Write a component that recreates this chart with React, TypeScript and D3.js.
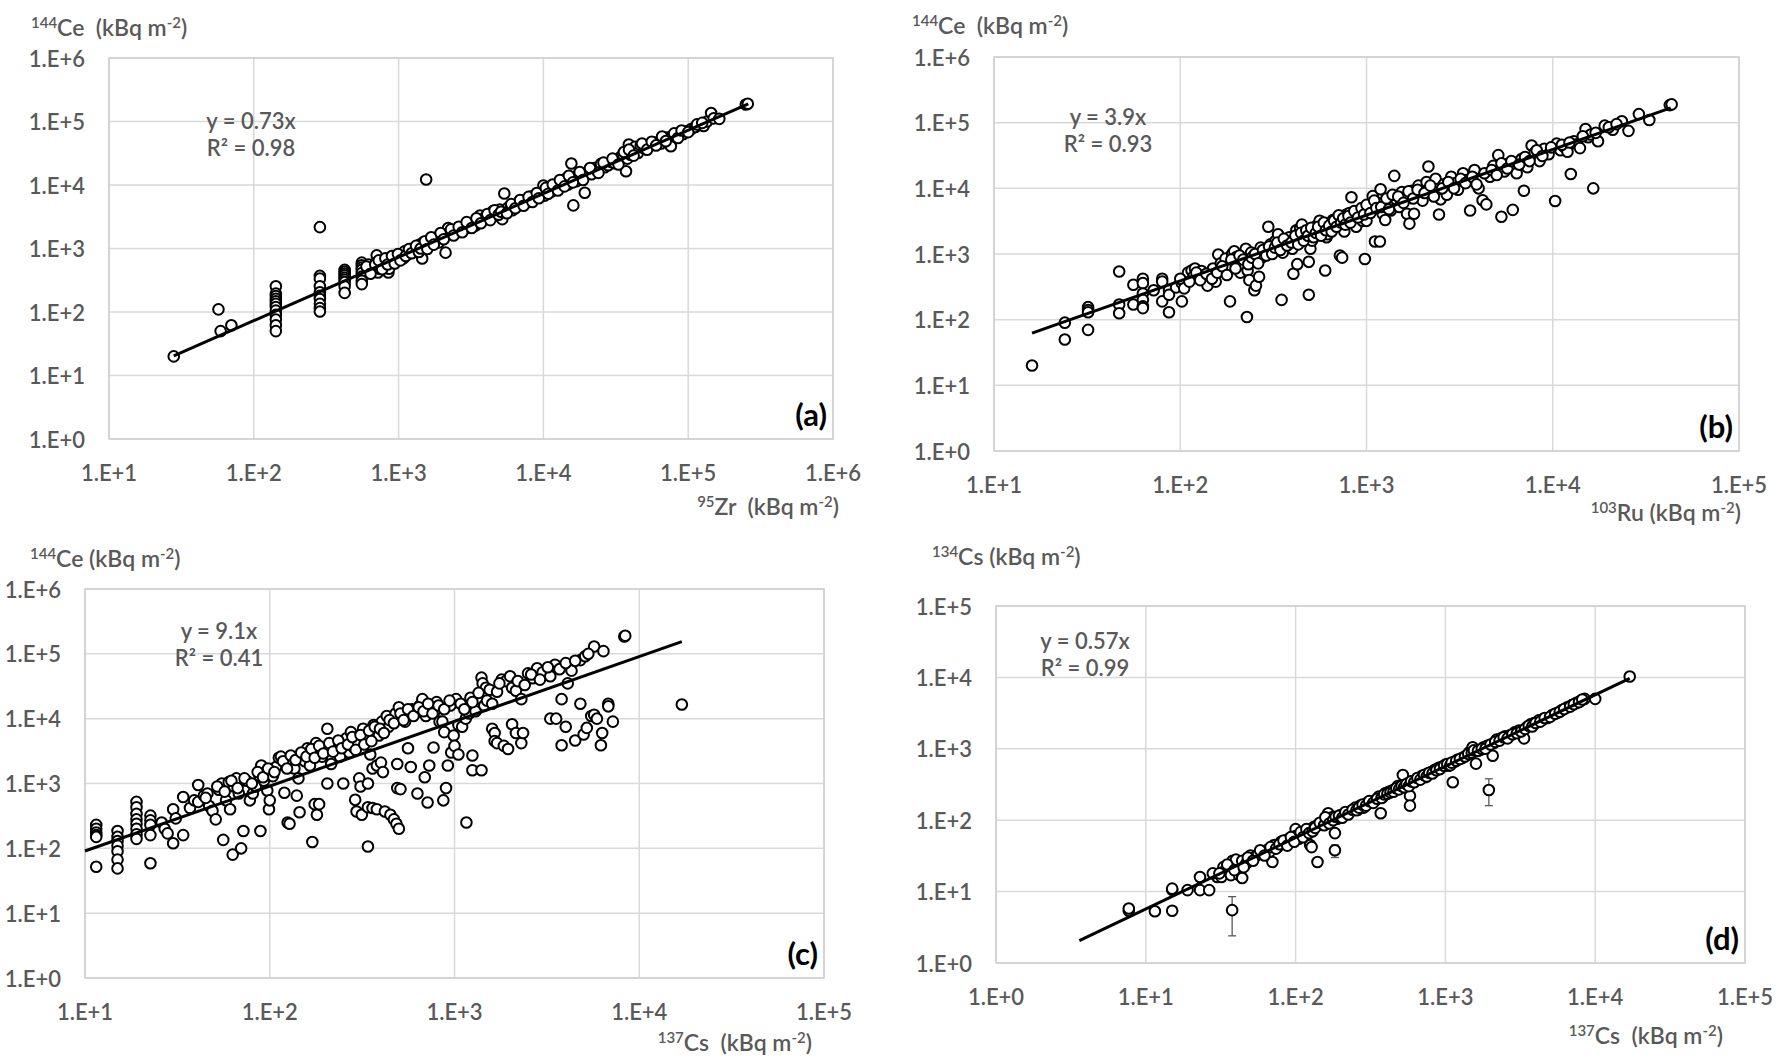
import React from "react";
import * as d3 from "d3";

// (a) 95Zr vs 144Ce, kBq m-2
const zrCe: [number, number][] = [
  [28, 20], [57, 110], [59, 50], [70, 62],
  [142, 255], [142, 195], [142, 178], [142, 162], [142, 148], [142, 135], [142, 120], [142, 105], [142, 90], [142, 76], [142, 62], [142, 50],
  [286, 2170], [286, 370], [286, 335], [286, 255], [286, 205], [286, 180], [286, 160], [286, 135], [286, 115], [286, 102],
  [424, 460], [424, 430], [424, 400], [424, 375], [424, 345], [424, 320], [424, 295], [424, 255], [424, 200],
  [557, 600], [557, 545], [557, 500], [557, 460], [557, 410], [557, 360], [557, 310], [557, 275],
  [620, 560], [650, 470], [680, 520], [706, 780], [700, 600], [720, 420], [740, 480], [760, 560], [790, 520], [820, 620],
  [850, 420], [860, 480], [880, 650], [920, 600], [950, 700], [980, 680], [1000, 760], [1050, 820], [1080, 700], [1100, 900],
  [1150, 800], [1200, 880], [1250, 1000], [1300, 940], [1350, 1050], [1400, 1150], [1455, 694], [1480, 1250], [1550, 1100],
  [1550, 12200], [1600, 1300], [1650, 1200], [1700, 1400], [1800, 1350], [1850, 1500], [1900, 1250], [2000, 1600], [2110, 860],
  [2150, 1700], [2200, 2100], [2250, 1800], [2350, 1700], [2450, 1950], [2550, 1850], [2700, 2100], [2850, 2000], [3000, 2350],
  [3100, 2150], [3300, 2500], [3400, 2300], [3500, 2750], [3650, 3300], [3800, 2750], [3900, 2900], [4000, 3200], [4200, 3000],
  [4400, 3600], [4500, 3900], [4700, 3300], [4800, 3700], [5000, 4100], [5200, 2900], [5370, 7360], [5500, 4000], [5700, 4400],
  [5900, 4200], [6100, 4000], [6300, 4800], [6500, 4600], [6700, 5000], [7000, 5300], [7200, 5700], [7500, 5100], [7700, 6000],
  [8000, 5700], [8200, 6600], [8500, 6100], [8800, 6900], [9100, 6600], [9500, 7100], [9800, 7700], [10000, 9800], [10200, 6800],
  [10600, 8000], [11000, 8600], [11400, 7900], [11800, 9200], [12300, 8800], [12800, 10500], [13300, 9700], [13800, 11200],
  [14300, 12600], [14800, 10200], [15300, 11800], [15600, 21800], [16100, 4770], [16500, 13200], [17000, 11500], [17500, 14500],
  [18200, 13000], [19300, 7540], [19500, 15000], [20500, 16200], [21500, 14800], [22500, 18500], [23500, 16800], [25000, 21500],
  [26500, 19000], [28000, 20500], [29500, 23000], [31000, 22000], [32500, 25500], [34000, 27500], [35500, 30000], [37200, 16500],
  [38000, 26000], [38900, 43400], [40000, 30000], [41500, 35000], [43000, 40000], [45000, 32000], [47000, 42000], [50000, 37000],
  [53000, 40000], [57000, 44000], [61000, 47000], [65000, 45000], [68000, 52000], [72000, 56000], [75900, 40800], [78000, 60000],
  [82000, 57000], [87000, 66000], [92000, 63000], [97000, 70000], [105000, 76000], [112000, 82000], [120000, 88000],
  [128000, 85000], [135000, 100000], [144000, 136000], [150000, 112000], [164000, 110000], [250000, 185000], [258000, 190000],
  [600, 520], [640, 400], [690, 560], [730, 650], [770, 470], [810, 700], [840, 560], [900, 760], [940, 580], [990, 820],
  [1030, 650], [1120, 760], [1180, 980], [1230, 840], [1320, 1100], [1380, 880], [1420, 1000], [1520, 1300], [1580, 980],
  [1680, 1500], [1750, 1150], [1950, 1750], [2050, 1400], [2300, 2000], [2400, 1600], [2600, 2200], [2750, 1800], [2950, 2600],
  [3200, 2100], [3450, 3000], [3700, 2500], [4100, 3500], [4300, 2800], [4600, 4000], [4900, 3400], [5100, 3800], [5600, 3600],
  [6000, 5000], [6400, 4300], [6900, 5800], [7300, 4700], [7900, 6500], [8400, 5400], [9000, 7500], [9300, 6200], [10400, 9000],
  [10800, 7300], [11600, 10200], [12600, 8200], [13000, 12000], [14000, 9500], [15000, 14000], [16000, 11000], [17800, 16000],
  [18800, 12000], [21000, 18500], [24000, 15500], [26000, 22500], [30000, 26000], [33000, 21000], [36000, 33000], [39000, 36000],
  [42000, 29000], [48000, 45000], [52000, 36000], [56000, 48000], [60000, 42000], [66000, 58000], [70000, 49000], [80000, 65000],
  [85000, 55000], [90000, 72000], [100000, 68000], [115000, 90000], [125000, 95000],
];

// (b) 103Ru vs 144Ce
const ruCe: [number, number][] = [
  [16, 20], [24, 90], [24, 50], [32, 155], [32, 140], [32, 130], [32, 70],
  [47, 540], [47, 170], [47, 125], [56, 340], [56, 170], [63, 420], [63, 360], [63, 250], [63, 200], [63, 160], [63, 150],
  [72, 280], [80, 420], [80, 380], [80, 190], [87, 280], [87, 240], [87, 130], [95, 310], [102, 190], [102, 360], [107, 420],
  [110, 520], [115, 560], [118, 460], [120, 600], [125, 480], [130, 550], [135, 420], [140, 330], [145, 480], [150, 600],
  [155, 380], [160, 980], [165, 720], [170, 560], [175, 850], [180, 640], [185, 190], [190, 1000], [195, 1100], [200, 900],
  [205, 780], [210, 520], [215, 700], [220, 950], [225, 1200], [228, 110], [230, 560], [235, 400], [240, 1050], [245, 760],
  [250, 280], [255, 330], [260, 980], [265, 450], [270, 1250], [275, 890], [285, 1100], [297, 2600], [305, 1400], [315, 1200],
  [325, 1600], [335, 2000], [340, 1300], [350, 200], [355, 1050], [370, 1500], [385, 1800], [400, 1200], [405, 500], [410, 1650],
  [420, 2300], [425, 700], [440, 2500], [450, 2800], [465, 1900], [490, 240], [490, 760], [500, 1200], [510, 1600], [525, 2200],
  [540, 2700], [560, 3200], [580, 2400], [600, 560], [610, 1800], [620, 2000], [640, 2700], [660, 3300], [680, 2900], [700, 3600],
  [720, 950], [740, 880], [760, 2200], [780, 4000], [790, 3100], [810, 4200], [830, 7300], [850, 3500], [880, 2600], [920, 4600],
  [950, 3200], [980, 840], [1000, 3200], [1030, 4300], [1060, 5500], [1080, 7600], [1110, 1550], [1150, 6000], [1180, 1550],
  [1190, 9700], [1220, 4100], [1260, 3300], [1300, 5800], [1350, 4600], [1410, 15500], [1450, 6700], [1500, 5200], [1550, 8800],
  [1600, 7000], [1650, 4100], [1700, 2900], [1750, 9200], [1800, 4100], [1850, 7800], [1900, 11000], [1950, 8500], [2000, 6500],
  [2100, 12500], [2150, 21500], [2250, 9300], [2350, 14000], [2450, 4000], [2500, 6800], [2600, 11500], [2700, 8000],
  [2850, 15000], [3000, 12000], [3100, 9500], [3300, 17000], [3500, 13500], [3600, 4600], [3800, 19000], [4000, 10000],
  [4200, 6600], [4400, 5700], [4600, 15000], [4800, 22000], [5100, 32000], [5300, 3700], [5500, 18000], [5800, 24000],
  [6100, 4700], [6400, 17000], [6800, 28000], [7000, 9200], [7300, 21000], [7700, 45000], [8000, 35000], [8500, 26000],
  [9000, 40000], [9500, 33000], [10300, 6400], [10500, 48000], [11000, 38000], [11500, 43000], [12000, 36000], [12500, 16500],
  [13000, 52000], [13500, 47000], [14000, 41000], [15000, 80000], [15500, 60000], [16000, 66000], [16500, 10000], [17500, 52000],
  [19000, 90000], [21000, 78000], [23500, 105000], [25500, 75000], [29000, 135000], [33000, 110000], [42500, 185000], [43500, 190000],
  [100, 420], [105, 300], [112, 380], [122, 520], [128, 400], [138, 500], [148, 420], [158, 520], [168, 650], [178, 480],
  [188, 820], [198, 600], [208, 950], [218, 820], [232, 700], [242, 880], [252, 1000], [262, 720], [278, 1150], [290, 950],
  [300, 1300], [312, 1000], [322, 1250], [332, 1500], [345, 1150], [360, 1700], [375, 1350], [395, 1500], [415, 1900],
  [430, 1400], [445, 2100], [460, 1600], [475, 2300], [485, 1900], [505, 2500], [520, 1800], [535, 2100], [550, 2600],
  [570, 1900], [590, 3000], [605, 2300], [630, 2700], [650, 2200], [670, 3200], [690, 2600], [710, 3900], [730, 3000],
  [750, 3500], [770, 2800], [800, 3800], [820, 3000], [860, 4500], [900, 3600], [940, 5000], [970, 4000], [1000, 5600],
  [1050, 4200], [1100, 6500], [1130, 5000], [1200, 5200], [1280, 7000], [1320, 4800], [1380, 8000], [1480, 7500], [1580, 6000],
  [1680, 9000], [1780, 7000], [1880, 9500], [2050, 8500], [2200, 11000], [2300, 7500], [2550, 10000], [2750, 12500],
  [2950, 10000], [3200, 14000], [3400, 12000], [3700, 15000], [3900, 11500], [4300, 17000], [4700, 19000], [5000, 16000],
  [5300, 24000], [5700, 20000], [6000, 26000], [6600, 23000], [7100, 30000], [7500, 26000], [8200, 38000], [8800, 31000],
  [9800, 42000], [11200, 46000], [12300, 50000], [14500, 62000], [17000, 70000], [20000, 85000], [22000, 95000],
];

// (c) 137Cs vs 144Ce
const csCe: [number, number][] = [
  [11.5, 230], [11.5, 200], [11.5, 175], [11.5, 160], [11.5, 150], [11.5, 52],
  [15, 185], [15, 150], [15, 130], [15, 110], [15, 90], [15, 67], [15, 49],
  [19, 520], [19, 430], [19, 340], [19, 280], [19, 240], [19, 200], [19, 165], [19, 140],
  [22.6, 320], [22.6, 270], [22.6, 230], [22.6, 160], [22.6, 59],
  [26, 250], [27, 200], [28, 170], [30, 400], [30, 120], [31, 290], [34, 620], [34, 160], [37, 420], [39, 550], [41, 950],
  [41, 520], [44, 650], [46, 700], [47, 450], [49, 380], [51, 280], [53, 800], [55, 1000], [56, 135], [58, 550], [60, 1050],
  [61, 400], [63, 80], [64, 900], [66, 1200], [68, 700], [70, 100], [72, 185], [75, 1100], [78, 550], [81, 700], [84, 900],
  [88, 1300], [89, 185], [90, 1900], [93, 1100], [95, 1500], [97, 780], [99, 400], [100, 550], [104, 1300], [108, 1800],
  [112, 2500], [115, 2600], [120, 720], [125, 250], [128, 240], [132, 2000], [136, 1700], [140, 650], [143, 1200], [145, 360],
  [150, 2800], [155, 2200], [160, 3500], [165, 1900], [170, 125], [175, 480], [178, 4200], [180, 330], [185, 480], [192, 2600],
  [198, 3300], [205, 7000], [205, 1000], [215, 2000], [230, 3500], [240, 2600], [250, 4500], [250, 1000], [260, 5000],
  [270, 3000], [275, 6200], [285, 3600], [290, 560], [295, 370], [300, 4200], [305, 1200], [310, 900], [315, 330], [320, 7000],
  [330, 4800], [340, 107], [340, 1000], [340, 430], [350, 2800], [360, 420], [360, 1700], [365, 8000], [375, 6000], [380, 400],
  [380, 1900], [390, 5500], [400, 2100], [405, 9000], [410, 1500], [420, 370], [430, 11000], [440, 7500], [450, 330],
  [460, 9500], [470, 280], [480, 12000], [485, 240], [490, 2000], [490, 850], [500, 200], [500, 15000], [510, 820], [520, 11000],
  [540, 9000], [560, 3500], [580, 1800], [590, 14000], [610, 12000], [630, 700], [650, 16000], [670, 20000], [690, 1250],
  [700, 11000], [715, 510], [730, 1900], [750, 15000], [770, 3600], [780, 13000], [800, 18000], [830, 9000], [860, 9000],
  [870, 550], [880, 6200], [900, 850], [920, 1900], [950, 16000], [960, 3000], [990, 5500], [1000, 3800], [1020, 20000],
  [1050, 8000], [1050, 2800], [1100, 7500], [1150, 10000], [1160, 250], [1200, 12000], [1220, 21000], [1250, 2700],
  [1250, 1600], [1280, 15000], [1300, 13000], [1400, 43000], [1400, 1600], [1420, 35000], [1450, 16000], [1480, 30000],
  [1500, 19000], [1600, 7000], [1600, 17000], [1650, 6000], [1650, 4500], [1700, 4200], [1800, 40000], [1850, 3800],
  [1900, 38000], [1950, 3400], [2000, 45000], [2050, 30000], [2050, 8200], [2150, 27000], [2150, 6000], [2300, 20000],
  [2300, 4200], [2350, 6000], [2500, 50000], [2650, 42000], [2800, 60000], [3000, 52000], [3300, 10000], [3300, 45000],
  [3500, 68000], [3550, 10000], [3800, 20000], [3800, 3900], [4000, 7500], [4100, 35000], [4300, 55000], [4500, 4600],
  [4800, 17000], [4800, 80000], [5000, 5700], [5100, 92000], [5200, 7200], [5500, 11000], [5700, 130000], [5700, 11500],
  [5900, 10000], [6200, 3900], [6300, 6000], [6400, 110000], [6800, 17000], [6800, 15500], [7200, 9000], [8300, 185000],
  [8400, 190000], [17000, 16500],
  [45, 600], [52, 900], [57, 750], [62, 1100], [67, 850], [73, 1200], [80, 1000], [86, 1500], [92, 1250], [98, 1700],
  [106, 1500], [118, 2200], [124, 1700], [130, 2700], [138, 2300], [148, 3000], [158, 2600], [168, 3400], [175, 2500],
  [185, 3800], [195, 2900], [210, 4200], [220, 3100], [235, 4600], [245, 3500], [265, 4000], [280, 5200], [292, 3300],
  [310, 5600], [325, 4000], [345, 6500], [355, 4500], [370, 7500], [395, 7000], [415, 6000], [445, 9500], [470, 8500],
  [510, 12000], [530, 9500], [560, 14000], [600, 11000], [640, 15000], [680, 13000], [720, 17000], [760, 12000], [820, 16000],
  [880, 14000], [940, 19000], [1080, 17000], [1130, 14000], [1250, 18000], [1350, 25000], [1550, 28000], [1700, 26000],
  [1750, 35000], [2200, 38000], [2400, 33000], [2600, 48000], [2900, 40000], [3200, 62000], [3700, 58000], [4000, 72000],
  [4500, 78000], [5300, 100000],
];

// (d) 137Cs vs 134Cs
const csCs: [number, number][] = [
  [7.7, 5.4], [7.7, 5.8], [11.5, 5.3], [15, 5.4], [15, 10.6], [15, 11], [19, 10.5], [23, 10.5], [23, 16], [26.5, 10.5],
  [30, 16], [32, 16], [33, 22], [34, 20], [36, 22], [37, 17], [38, 27], [40, 28], [42, 17], [44, 15.5], [44, 27], [47, 25],
  [50, 32], [53, 30], [56, 33], [60, 35], [64, 38], [67, 36], [70, 26], [72, 45], [76, 42], [80, 50], [85, 47], [90, 55],
  [95, 52], [100, 75], [100, 60], [105, 55], [110, 62], [115, 66], [120, 72], [125, 45], [128, 42], [132, 80], [140, 26],
  [140, 85], [150, 88], [160, 100], [165, 125], [170, 95], [175, 110], [183, 66], [190, 105], [200, 118], [210, 120],
  [220, 125], [235, 135], [250, 150], [260, 140], [270, 160], [285, 150], [300, 175], [320, 180], [340, 190], [360, 215],
  [370, 125], [380, 210], [400, 240], [420, 250], [440, 260], [460, 270], [480, 300], [500, 290], [520, 430], [540, 310],
  [560, 330], [580, 220], [580, 160], [600, 350], [630, 360], [660, 380], [700, 420], [730, 400], [760, 450], [800, 470],
  [850, 510], [900, 540], [950, 560], [1000, 600], [1050, 580], [1120, 340], [1150, 660], [1200, 700], [1300, 750],
  [1400, 820], [1450, 900], [1520, 1050], [1600, 620], [1700, 960], [1800, 1050], [1900, 1100], [2070, 800], [2100, 1200],
  [2200, 1350], [2350, 1400], [2500, 1500], [2700, 1550], [2900, 1700], [3100, 1800], [3350, 1400], [3500, 2000],
  [3700, 2200], [3900, 2300], [4200, 2500], [4500, 2600], [4800, 2700], [5200, 3000], [5600, 3200], [6000, 3500],
  [6500, 3800], [7000, 4100], [7500, 4400], [8000, 4700], [8500, 5000], [10000, 5000], [17000, 10300],
  [28, 18], [31, 18], [35, 24], [39, 20], [45, 22], [48, 30], [52, 27], [58, 38], [62, 32], [68, 42], [74, 40], [78, 46],
  [83, 52], [88, 44], [93, 58], [98, 50], [108, 68], [112, 58], [118, 75], [123, 66], [130, 70], [135, 78], [145, 92],
  [155, 85], [158, 110], [168, 90], [178, 100], [185, 112], [195, 115], [205, 108], [215, 130], [225, 120], [240, 140],
  [255, 138], [265, 150], [280, 165], [295, 160], [310, 185], [330, 175], [350, 200], [375, 205], [390, 230], [410, 235],
  [430, 245], [450, 250], [470, 280], [490, 270], [510, 300], [530, 290], [550, 320], [570, 300], [590, 350], [620, 340],
  [650, 390], [680, 370], [720, 430], [750, 410], [780, 460], [820, 450], [870, 500], [920, 520], [980, 580], [1030, 610],
  [1080, 590], [1100, 640], [1180, 680], [1250, 720], [1350, 780], [1420, 850], [1500, 880], [1550, 950], [1650, 940],
  [1750, 1000], [1850, 1000], [2000, 1150], [2150, 1250], [2300, 1300], [2450, 1450], [2600, 1400], [2800, 1600],
  [3000, 1650], [3200, 1750], [3400, 1900], [3600, 2100], [3800, 2050], [4000, 2300], [4300, 2400], [4600, 2700],
  [5000, 2800], [5400, 3100], [5800, 3300], [6200, 3600], [6800, 3900], [7200, 4200], [7800, 4500], [8200, 4900],
];

// (d) points drawn with error bars: x, y, low, high
const csCsErr: [number, number, number, number][] = [
  [37.7, 5.5, 2.4, 8.5],
  [183, 38, 30, 45],
  [1950, 265, 160, 380],
];

const slopes = [0.73, 3.9, 9.1, 0.57];
const rSquared = ["0.98", "0.93", "0.41", "0.99"];
const fitRanges: [number, number][] = [[28, 260000], [16, 43000], [10, 17000], [3.6, 17000]];
const tags = ["(a)", "(b)", "(c)", "(d)"];
const xMass = ["95", "103", "137", "137"];
const xSym = ["Zr", "Ru", "Cs", "Cs"];
const yMass = ["144", "144", "144", "134"];
const ySym = ["Ce", "Ce", "Ce", "Cs"];
const xDomains: [number, number][] = [[1e1, 1e6], [1e1, 1e5], [1e1, 1e5], [1e0, 1e5]];
const yDomains: [number, number][] = [[1e0, 1e6], [1e0, 1e6], [1e0, 1e6], [1e0, 1e5]];
const datasets = [zrCe, ruCe, csCe, csCs];

// layout of each panel on the page
const boxes = [
  { left: 109, right: 833, top: 58, bottom: 439, eqX: 251, eqY: 120, yTitle: [31, 36], xTitle: [839, 515], yGap: "  ", xGap: "  " },
  { left: 994, right: 1739, top: 57, bottom: 451, eqX: 1108, eqY: 116, yTitle: [912, 34], xTitle: [1741, 521], yGap: "  ", xGap: " " },
  { left: 85, right: 824, top: 589, bottom: 978, eqX: 219, eqY: 630, yTitle: [30, 567], xTitle: [812, 1051], yGap: " ", xGap: "  " },
  { left: 996, right: 1745, top: 606, bottom: 963, eqX: 1085, eqY: 640, yTitle: [932, 565], xTitle: [1723, 1044], yGap: " ", xGap: "  " },
];

const FONT = "Lato, 'Open Sans', sans-serif";
const GREY = "#595959";
const GRID = "#d9d9d9";

const decades = ([lo, hi]: [number, number]) =>
  d3.range(Math.round(Math.log10(lo)), Math.round(Math.log10(hi)) + 1).map((e) => 10 ** e);
const fmt = (v: number) => `1.E+${Math.round(Math.log10(v))}`;

function Panel({ i }: { i: number }) {
  const b = boxes[i];
  const x = d3.scaleLog().domain(xDomains[i]).range([b.left, b.right]);
  const y = d3.scaleLog().domain(yDomains[i]).range([b.bottom, b.top]);
  const xt = decades(xDomains[i]);
  const yt = decades(yDomains[i]);
  const fit = d3
    .line<number>()
    .x((d) => x(d))
    .y((d) => y(slopes[i] * d))(fitRanges[i]);
  const errs = i === 3 ? csCsErr : [];

  return (
    <g fontFamily={FONT} fontWeight={600}>
      {yt.map((v) => (
        <line key={"gy" + v} x1={b.left} x2={b.right} y1={y(v)} y2={y(v)} stroke={GRID} strokeWidth={1.5} />
      ))}
      {xt.map((v) => (
        <line key={"gx" + v} x1={x(v)} x2={x(v)} y1={b.top} y2={b.bottom} stroke={GRID} strokeWidth={1.5} />
      ))}
      <rect x={b.left} y={b.top} width={b.right - b.left} height={b.bottom - b.top} fill="none" stroke="#d0d0d0" strokeWidth={1.5} />

      {errs.map((e, k) => (
        <g key={"e" + k} stroke={GREY} strokeWidth={1.3}>
          <line x1={x(e[0])} x2={x(e[0])} y1={y(e[2])} y2={y(e[3])} />
          <line x1={x(e[0]) - 4} x2={x(e[0]) + 4} y1={y(e[2])} y2={y(e[2])} />
          <line x1={x(e[0]) - 4} x2={x(e[0]) + 4} y1={y(e[3])} y2={y(e[3])} />
        </g>
      ))}
      {datasets[i].map((d, k) => (
        <circle key={k} cx={x(d[0])} cy={y(d[1])} r={5.3} fill="#fff" stroke="#000" strokeWidth={2} />
      ))}
      {errs.map((e, k) => (
        <circle key={"ec" + k} cx={x(e[0])} cy={y(e[1])} r={5.3} fill="#fff" stroke="#000" strokeWidth={2} />
      ))}
      <path d={fit || ""} fill="none" stroke="#000" strokeWidth={3} />

      {yt.map((v) => (
        <text key={"ly" + v} x={b.left - 24} y={y(v)} textAnchor="end" dominantBaseline="central" fontSize={22} fill={GREY}>
          {fmt(v)}
        </text>
      ))}
      {xt.map((v) => (
        <text key={"lx" + v} x={x(v)} y={b.bottom + 33} textAnchor="middle" dominantBaseline="central" fontSize={22} fill={GREY}>
          {fmt(v)}
        </text>
      ))}

      <text x={b.yTitle[0]} y={b.yTitle[1]} fontSize={23} fill={GREY} xmlSpace="preserve">
        <tspan fontSize={15} dy={-8}>{yMass[i]}</tspan>
        <tspan dy={8}>{ySym[i] + b.yGap + "(kBq m"}</tspan>
        <tspan fontSize={15} dy={-8}>-2</tspan>
        <tspan dy={8}>)</tspan>
      </text>
      <text x={b.xTitle[0]} y={b.xTitle[1]} textAnchor="end" fontSize={23} fill={GREY} xmlSpace="preserve">
        <tspan fontSize={15} dy={-8}>{xMass[i]}</tspan>
        <tspan dy={8}>{xSym[i] + b.xGap + "(kBq m"}</tspan>
        <tspan fontSize={15} dy={-8}>-2</tspan>
        <tspan dy={8}>)</tspan>
      </text>

      <text x={b.eqX} y={b.eqY} textAnchor="middle" dominantBaseline="central" fontSize={22} fill={GREY}>
        {`y = ${slopes[i]}x`}
      </text>
      <text x={b.eqX} y={b.eqY + 27} textAnchor="middle" dominantBaseline="central" fontSize={22} fill={GREY}>
        {`R² = ${rSquared[i]}`}
      </text>

      <text x={b.right - 6} y={b.bottom - 25} textAnchor="end" dominantBaseline="central" fontSize={31} fontWeight="bold" fill="#000">
        {tags[i]}
      </text>
    </g>
  );
}

export default function App() {
  return (
    <svg width={1792} height={1064} style={{ position: "absolute", left: 0, top: 0, background: "#fff" }}>
      <rect width={1792} height={1064} fill="#fff" />
      {[0, 1, 2, 3].map((i) => (
        <Panel key={i} i={i} />
      ))}
    </svg>
  );
}
